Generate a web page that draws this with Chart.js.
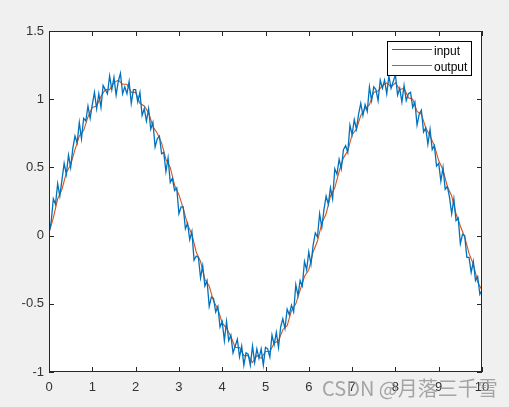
<!DOCTYPE html>
<html>
<head>
<meta charset="utf-8">
<script src="https://cdn.jsdelivr.net/npm/chart.js@4.4.0/dist/chart.umd.min.js"></script>
<style>
  html, body { margin: 0; padding: 0; background: #f0f0f0; }
  #wrap { position: relative; width: 509px; height: 407px; }
  #mark {
    position: absolute; left: 322px; top: 378px;
    font: 20px/20px "Noto Sans CJK SC", "Liberation Sans", sans-serif;
    color: rgba(150, 150, 150, 0.85); white-space: nowrap; pointer-events: none;
  }
</style>
</head>
<body>
<div id="wrap">
  <canvas id="myChart" width="509" height="407"></canvas>
  <div id="mark">CSDN @月落三千雪</div>
</div>
<script>
// noisy input, sampled every 0.05 from 0 to 10
var inputStep = 0.05;
var inputValues = [
  0.02, 0.10, 0.27, 0.23, 0.38, 0.29, 0.41, 0.53, 0.45, 0.59,
  0.50, 0.64, 0.73, 0.68, 0.83, 0.71, 0.86, 0.84, 0.95, 0.86,
  0.96, 1.05, 0.93, 1.04, 0.94, 1.10, 1.07, 1.04, 1.17, 1.07,
  1.16, 1.03, 1.13, 1.19, 1.04, 1.09, 1.04, 1.13, 0.97, 1.07,
  1.07, 0.98, 1.05, 0.88, 0.93, 0.84, 0.93, 0.78, 0.83, 0.65,
  0.71, 0.73, 0.60, 0.61, 0.47, 0.57, 0.39, 0.42, 0.33, 0.35,
  0.16, 0.21, 0.21, 0.05, 0.09, -0.03, 0.03, -0.18, -0.15, -0.16,
  -0.31, -0.22, -0.37, -0.33, -0.52, -0.45, -0.46, -0.56, -0.52, -0.67,
  -0.63, -0.77, -0.63, -0.77, -0.73, -0.86, -0.81, -0.76, -0.89, -0.81,
  -0.95, -0.86, -0.87, -0.95, -0.81, -0.93, -0.83, -0.90, -0.83, -0.95,
  -0.82, -0.83, -0.89, -0.73, -0.80, -0.71, -0.82, -0.67, -0.61, -0.68,
  -0.54, -0.58, -0.51, -0.56, -0.36, -0.44, -0.33, -0.37, -0.19, -0.25,
  -0.12, -0.21, -0.07, 0.02, -0.01, 0.16, 0.06, 0.19, 0.29, 0.23,
  0.35, 0.27, 0.49, 0.45, 0.56, 0.49, 0.63, 0.66, 0.61, 0.81,
  0.74, 0.85, 0.78, 0.89, 0.97, 0.88, 0.96, 0.91, 1.09, 0.99,
  1.09, 1.07, 0.99, 1.14, 1.08, 1.14, 1.04, 1.17, 1.08, 1.13,
  1.18, 1.03, 1.08, 0.98, 1.10, 0.99, 1.04, 1.05, 0.94, 0.98,
  0.81, 0.89, 0.92, 0.76, 0.79, 0.67, 0.78, 0.63, 0.66, 0.51,
  0.53, 0.40, 0.50, 0.34, 0.36, 0.28, 0.16, 0.27, 0.11, 0.13,
  -0.06, 0.01, 0.00, -0.16, -0.16, -0.27, -0.19, -0.33, -0.30, -0.43,
  -0.40
];
// filtered output, sampled every 0.1
var outputStep = 0.1;
var outputValues = [
  0.02, 0.13, 0.27, 0.34, 0.46, 0.52, 0.63, 0.73, 0.77, 0.87,
  0.94, 0.95, 1.02, 1.07, 1.07, 1.12, 1.14, 1.11, 1.11, 1.05,
  1.05, 0.97, 0.95, 0.90, 0.80, 0.75, 0.68, 0.56, 0.50, 0.37,
  0.30, 0.20, 0.08, 0.01, -0.12, -0.19, -0.32, -0.37, -0.48, -0.54,
  -0.64, -0.68, -0.74, -0.82, -0.82, -0.88, -0.88, -0.93, -0.88, -0.90,
  -0.85, -0.85, -0.79, -0.77, -0.69, -0.66, -0.55, -0.50, -0.40, -0.30,
  -0.25, -0.12, -0.04, 0.09, 0.16, 0.29, 0.35, 0.47, 0.57, 0.62,
  0.74, 0.78, 0.88, 0.93, 0.96, 1.05, 1.06, 1.10, 1.12, 1.09,
  1.12, 1.07, 1.08, 1.01, 1.00, 0.91, 0.89, 0.79, 0.73, 0.66,
  0.55, 0.48, 0.36, 0.29, 0.16, 0.07, -0.01, -0.13, -0.21, -0.34,
  -0.40
];
var xTicks = [0, 1, 2, 3, 4, 5, 6, 7, 8, 9, 10];
var yTicks = [-1, -0.5, 0, 0.5, 1, 1.5];
var seriesNames = ["input", "output"];
var seriesColors = ["#0072BD", "#D95319"];

function toPoints(values, step) {
  return values.map(function (v, i) { return { x: +(i * step).toFixed(2), y: v }; });
}

var axisColor = "#333333";
var font = { family: "'Liberation Sans', Arial, sans-serif", size: 13 };

var matlabAxes = {
  id: "matlabAxes",
  beforeDraw: function (chart) {
    var a = chart.chartArea, ctx = chart.ctx;
    ctx.save();
    ctx.fillStyle = "#ffffff";
    ctx.fillRect(a.left, a.top, a.right - a.left, a.bottom - a.top);
    ctx.restore();
  },
  afterDraw: function (chart) {
    var a = chart.chartArea, ctx = chart.ctx;
    var xs = chart.scales.x, ys = chart.scales.y;
    ctx.save();
    ctx.strokeStyle = "#262626";
    ctx.lineWidth = 1;
    ctx.beginPath();
    xTicks.forEach(function (v) {
      var px = Math.round(xs.getPixelForValue(v)) + 0.5;
      ctx.moveTo(px, a.bottom); ctx.lineTo(px, a.bottom - 5);
      ctx.moveTo(px, a.top); ctx.lineTo(px, a.top + 5);
    });
    yTicks.forEach(function (v) {
      var py = Math.round(ys.getPixelForValue(v)) + 0.5;
      ctx.moveTo(a.left, py); ctx.lineTo(a.left + 5, py);
      ctx.moveTo(a.right, py); ctx.lineTo(a.right - 5, py);
    });
    ctx.stroke();
    ctx.strokeRect(Math.round(a.left) + 0.5, Math.round(a.top) + 0.5,
                   Math.round(a.right - a.left) - 1, Math.round(a.bottom - a.top) - 1);

    // legend box
    var lx = 387.5, ly = 41.5, lw = 84, lh = 34;
    ctx.fillStyle = "#ffffff";
    ctx.fillRect(lx, ly, lw, lh);
    ctx.strokeStyle = "#000000";
    ctx.strokeRect(lx, ly, lw, lh);
    ctx.font = "12px 'Liberation Sans', Arial, sans-serif";
    ctx.textBaseline = "middle";
    seriesNames.forEach(function (name, i) {
      var yy = 49.5 + i * 16;
      ctx.strokeStyle = seriesColors[i];
      ctx.beginPath();
      ctx.moveTo(392, yy); ctx.lineTo(432, yy);
      ctx.stroke();
      ctx.fillStyle = "#000000";
      ctx.fillText(name, 434, yy + 2);
    });
    ctx.restore();
  }
};

new Chart("myChart", {
  type: "line",
  data: {
    datasets: [
      {
        label: seriesNames[0],
        data: toPoints(inputValues, inputStep),
        borderColor: seriesColors[0],
        borderWidth: 1.3,
        pointRadius: 0,
        tension: 0
      },
      {
        label: seriesNames[1],
        data: toPoints(outputValues, outputStep),
        borderColor: seriesColors[1],
        borderWidth: 1.1,
        pointRadius: 0,
        tension: 0
      }
    ]
  },
  options: {
    responsive: false,
    animation: false,
    layout: { padding: { left: 0, top: 31, right: 27, bottom: 0 } },
    plugins: { legend: { display: false }, tooltip: { enabled: false } },
    scales: {
      x: {
        type: "linear",
        min: 0,
        max: 10,
        afterBuildTicks: function (s) { s.ticks = xTicks.map(function (v) { return { value: v }; }); },
        afterFit: function (s) { s.height = 35; },
        grid: { display: false, drawTicks: false },
        border: { display: false },
        ticks: { color: axisColor, font: font, padding: 8, maxRotation: 0, autoSkip: false,
                 callback: function (v) { return String(v); } }
      },
      y: {
        min: -1,
        max: 1.5,
        afterBuildTicks: function (s) { s.ticks = yTicks.map(function (v) { return { value: v }; }); },
        afterFit: function (s) { s.width = 49; },
        grid: { display: false, drawTicks: false },
        border: { display: false },
        ticks: { color: axisColor, font: font, padding: 5,
                 callback: function (v) { return String(v); } }
      }
    }
  },
  plugins: [matlabAxes]
});
</script>
</body>
</html>
